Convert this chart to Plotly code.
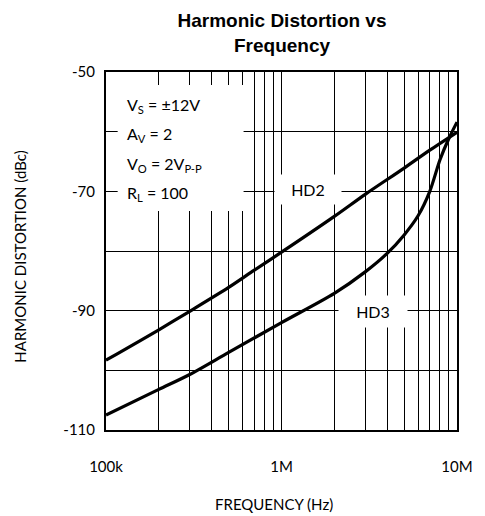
import plotly.graph_objects as go

# ---- data ----
hd2_freq = [1e5, 2e5, 3e5, 5e5, 7e5, 1e6, 2e6, 3e6, 5e6, 7e6, 1e7]
hd2_db = [-98.3, -93.2, -90.1, -86.1, -83.2, -80.2, -74.2, -70.5, -66.1, -63.1, -60.1]

hd3_freq = [1e5, 2e5, 3e5, 5e5, 1e6, 2e6, 3e6, 4e6, 5e6, 6e6, 7e6, 8e6, 9e6, 1e7]
hd3_db = [-107.5, -103.2, -100.7, -97.0, -92.0, -87.1, -83.5, -80.4, -77.3, -74.1, -70.0, -64.7, -61.1, -58.4]

x_tickvals = [1e5, 1e6, 1e7]
x_ticktext = ["100k", "1M", "10M"]
x_minorvals = [2e5, 3e5, 4e5, 5e5, 6e5, 7e5, 8e5, 9e5,
               2e6, 3e6, 4e6, 5e6, 6e6, 7e6, 8e6, 9e6]
y_tickvals = [-110, -90, -70, -50]
y_ticktext = ["-110", "-90", "-70", "-50"]
y_minorvals = [-100, -80, -60]

conditions = ["V<sub>S</sub> = ±12V", "A<sub>V</sub> = 2", "V<sub>O</sub> = 2V<sub>P-P</sub>", "R<sub>L</sub> = 100"]

TXT = "Lato"

fig = go.Figure()
fig.add_trace(go.Scatter(x=hd2_freq, y=hd2_db, mode="lines", name="HD2",
                         line=dict(color="black", width=3.2, shape="spline", smoothing=0.8)))
fig.add_trace(go.Scatter(x=hd3_freq, y=hd3_db, mode="lines", name="HD3",
                         line=dict(color="black", width=3.2, shape="spline", smoothing=0.8)))

L, R, T, B = 106, 18, 72, 86
W, H = 485, 516
pw, ph = W - L - R, H - T - B

def px(xa):
    return (xa - L) / pw

def py(ya):
    return (H - B - ya) / ph

# white box behind conditions
fig.add_shape(type="rect", xref="paper", yref="paper",
              x0=px(118), x1=px(247.5), y0=py(211), y1=py(85),
              fillcolor="white", line=dict(width=0), layer="above")

annos = []
for i, t in enumerate(conditions):
    annos.append(dict(text=t, xref="paper", yref="paper", x=px(126), y=py(105 + i * 29.5),
                      xanchor="left", yanchor="middle", showarrow=False,
                      font=dict(family=TXT, size=16, color="black")))

annos.append(dict(text="HD2", xref="paper", yref="paper", x=px(314), y=py(189.5),
                  xanchor="center", yanchor="middle", showarrow=False, width=62, height=25,
                  borderpad=2, bgcolor="white", font=dict(family=TXT, size=16, color="black")))
annos.append(dict(text="HD3", xref="paper", yref="paper", x=px(381), y=py(311.5),
                  xanchor="center", yanchor="middle", showarrow=False, width=64, height=27,
                  borderpad=2, bgcolor="white", font=dict(family=TXT, size=16, color="black")))

# axis titles
annos.append(dict(text="HARMONIC DISTORTION (dBc)", xref="paper", yref="paper", x=px(17.5), y=py(256.7),
                  xanchor="center", yanchor="middle", textangle=-90, showarrow=False,
                  font=dict(family=TXT, size=15, color="black")))
annos.append(dict(text="FREQUENCY (Hz)", xref="paper", yref="paper", x=px(279), y=py(504),
                  xanchor="center", yanchor="middle", showarrow=False,
                  font=dict(family=TXT, size=15, color="black")))

grid = dict(showgrid=True, gridcolor="black", gridwidth=1)

fig.update_layout(
    width=W, height=H,
    margin=dict(l=L, r=R, t=T, b=B),
    paper_bgcolor="white", plot_bgcolor="white",
    showlegend=False,
    title=dict(text="<b>Harmonic Distortion vs<br>Frequency</b>",
               x=282 / W, xanchor="center", xref="container",
               y=1 - 27 / H, yanchor="middle", yref="container",
               font=dict(family="Liberation Sans", size=19, color="black")),
    annotations=annos,
    xaxis=dict(type="log", range=[5, 7], tickvals=x_tickvals, ticktext=x_ticktext,
               minor=dict(tickvals=x_minorvals, ticks="", **grid), **grid,
               showline=True, linecolor="black", linewidth=2, mirror=True,
               ticks="", ticklabelstandoff=22, zeroline=False,
               tickfont=dict(family=TXT, size=15, color="black")),
    yaxis=dict(range=[-110, -50], tickvals=y_tickvals, ticktext=y_ticktext,
               minor=dict(tickvals=y_minorvals, ticks="", **grid), **grid,
               showline=True, linecolor="black", linewidth=2, mirror=True,
               ticks="", ticklabelstandoff=6, zeroline=False,
               tickfont=dict(family=TXT, size=15, color="black")),
)

fig.write_html("out.html", config={"displayModeBar": False},
               post_script="document.body.style.margin='0';document.body.style.overflow='hidden';")
